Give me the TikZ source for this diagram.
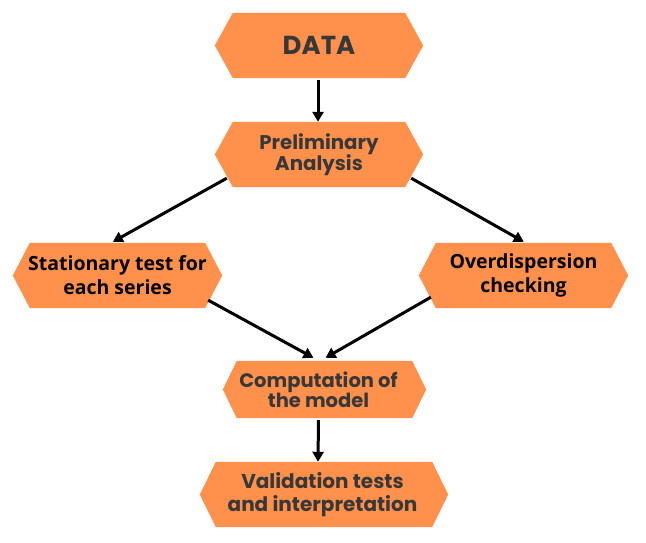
\documentclass[tikz,border=0pt]{standalone}
\usepackage{fontspec}
\setmainfont{Poppins}
\newfontfamily\narrowfont{Open Sans}
\usetikzlibrary{arrows.meta,backgrounds}
\definecolor{hexorange}{HTML}{FF914D}
\definecolor{graytext}{HTML}{383838}
\newcommand\hexfill[2]{\fill[hexorange] (#1.west) -- ([xshift=#2]#1.north west) -- ([xshift=-#2]#1.north east) -- (#1.east) -- ([xshift=-#2]#1.south east) -- ([xshift=#2]#1.south west) -- cycle;}
\tikzset{
  hexbox/.style={inner sep=0pt, align=center, text=graytext},
  darkbox/.style={inner sep=0pt, align=center, text=black, font={\narrowfont\bfseries\fontsize{19.5}{24}\selectfont}},
  flow/.style={line width=3pt, -{Triangle[length=10pt,width=11pt]}, black}
}
\begin{document}
\begin{tikzpicture}[x=1pt,y=-1pt]
\useasboundingbox (0,0) rectangle (646,543);
\node[hexbox, minimum width=208, minimum height=65, font={\bfseries\fontsize{26}{30}\selectfont}] (DATA) at (319,45.5) {DATA};
\node[hexbox, minimum width=208, minimum height=65, font={\bfseries\fontsize{19.8}{21.5}\selectfont}] (Pre) at (319,154.5) {Preliminary\\Analysis};
\node[darkbox, minimum width=209, minimum height=65] (Sta) at (117.5,275.5) {Stationary test for\\each series};
\node[darkbox, minimum width=209, minimum height=65] (Ove) at (523.5,275.5) {Overdispersion\\checking};
\node[hexbox, minimum width=203, minimum height=57, font={\bfseries\fontsize{19.5}{20}\selectfont}] (Com) at (324.5,389.5) {Computation of\hspace*{12pt}\\the model\hspace*{12pt}};
\node[hexbox, minimum width=248, minimum height=65, font={\bfseries\fontsize{20}{23}\selectfont}] (Val) at (324,494.5) {Validation tests\hspace*{3pt}\\and interpretation\hspace*{3pt}};
\begin{scope}[on background layer]
\hexfill{DATA}{18}
\hexfill{Pre}{18}
\hexfill{Sta}{17}
\hexfill{Ove}{17}
\hexfill{Com}{14}
\hexfill{Val}{16}
\end{scope}
\draw[flow] ([shift={(-1,2)}]DATA.south) -- ([shift={(-1,0)}]Pre.north);
\draw[flow] ([shift={(12,-9)}]Pre.south west) -- ([shift={(100,-1)}]Sta.north west);
\draw[flow] ([shift={(-12,-9)}]Pre.south east) -- ([shift={(105,-1)}]Ove.north west);
\draw[flow] ([shift={(-14,-8)}]Sta.south east) -- ([shift={(-11,-3)}]Com.north);
\draw[flow] ([shift={(12,-11)}]Ove.south west) -- ([shift={(1,-3)}]Com.north);
\draw[flow] ([shift={(-6,2)}]Com.south) -- ([shift={(-6,0)}]Val.north);
\end{tikzpicture}
\end{document}
